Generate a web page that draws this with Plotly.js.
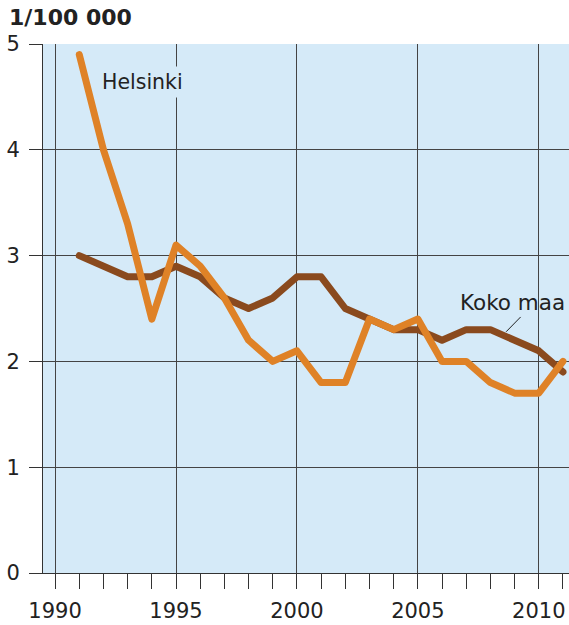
<!DOCTYPE html>
<html>
<head>
<meta charset="utf-8">
<script src="https://cdn.plot.ly/plotly-3.0.1.min.js"></script>
<style>
html,body{margin:0;padding:0;background:#fff;}
#chart{width:569px;height:625px;}
.scatterlayer path.js-line{stroke-linecap:round !important;stroke-linejoin:round !important;}
</style>
</head>
<body>
<div id="chart"></div>
<script>
var years = [1991,1992,1993,1994,1995,1996,1997,1998,1999,2000,2001,2002,2003,2004,2005,2006,2007,2008,2009,2010,2011];
var helsinki = [4.9,4.0,3.3,2.4,3.1,2.9,2.6,2.2,2.0,2.1,1.8,1.8,2.4,2.3,2.4,2.0,2.0,1.8,1.7,1.7,2.0];
var kokoMaa = [3.0,2.9,2.8,2.8,2.9,2.8,2.6,2.5,2.6,2.8,2.8,2.5,2.4,2.3,2.3,2.2,2.3,2.3,2.2,2.1,1.9];
var xTickVals = [1990,1995,2000,2005,2010];
var xTickText = ['1990','1995','2000','2005','2010'];
var yTickVals = [0,1,2,3,4,5];
var seriesNames = ['Helsinki','Koko maa'];
var titleText = '1/100 000';

var FONT = 'DejaVu Sans, Verdana, sans-serif';
var data = [
  {x: years, y: kokoMaa, name: seriesNames[1], mode: 'lines', line: {color: '#8a4a1e', width: 7}},
  {x: years, y: helsinki, name: seriesNames[0], mode: 'lines', line: {color: '#df8227', width: 7}}
];
var layout = {
  width: 569, height: 625,
  margin: {l: 43, r: 0, t: 44, b: 52},
  paper_bgcolor: '#ffffff',
  plot_bgcolor: '#d5eaf8',
  showlegend: false,
  font: {family: FONT, color: '#222', size: 20},
  title: {text: '<b>' + titleText + '</b>', xref: 'container', yref: 'container',
          x: 9/569, xanchor: 'left', y: 1 - 17/625, yanchor: 'middle',
          font: {family: FONT, size: 22, color: '#222'}},
  xaxis: {
    range: [1989.5, 2011.25], tickvals: xTickVals, ticktext: xTickText,
    ticks: 'outside', ticklen: 15, tickcolor: '#333', tickwidth: 1,
    ticklabelstandoff: 4,
    showgrid: true, gridcolor: '#444', gridwidth: 1,
    showline: true, linecolor: '#333', linewidth: 1,
    zeroline: false,
    minor: {dtick: 1, tick0: 1990, ticks: 'outside', ticklen: 15, tickcolor: '#333', tickwidth: 1, showgrid: false},
    tickfont: {family: FONT, size: 21, color: '#222'}
  },
  yaxis: {
    range: [0, 5], tickvals: yTickVals,
    ticks: 'outside', ticklen: 13, tickcolor: '#333', tickwidth: 1,
    ticklabelstandoff: 5,
    showgrid: true, gridcolor: '#444', gridwidth: 1,
    showline: true, linecolor: '#333', linewidth: 1,
    zeroline: false,
    tickfont: {family: FONT, size: 21, color: '#222'}
  },
  annotations: [
    {x: 1993.6, y: 4.64, xref: 'x', yref: 'y', text: seriesNames[0], showarrow: false,
     bgcolor: '#d5eaf8', borderpad: 3, font: {family: FONT, size: 20.5, color: '#222'}},
    {x: 2008.9, y: 2.56, xref: 'x', yref: 'y', text: seriesNames[1], showarrow: false,
     bgcolor: 'rgba(0,0,0,0)', font: {family: FONT, size: 21.5, color: '#222'}}
  ],
  shapes: [
    {type: 'line', xref: 'x', yref: 'y', x0: 2008.65, y0: 2.28, x1: 2009.25, y1: 2.42,
     line: {color: '#222', width: 1}}
  ]
};
Plotly.newPlot('chart', data, layout, {displayModeBar: false, staticPlot: true});
</script>
</body>
</html>
